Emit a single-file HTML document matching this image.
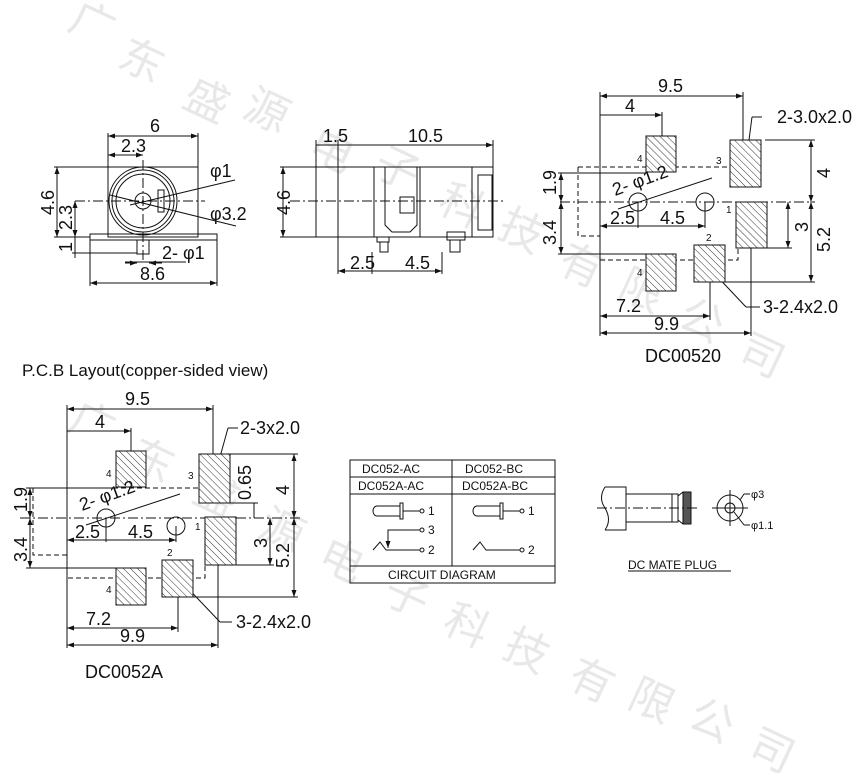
<!DOCTYPE html>
<html><head><meta charset="utf-8"><style>
html,body{margin:0;padding:0;background:#fff}
svg{display:block}
text{font-family:"Liberation Sans",Arial,sans-serif;fill:#111}
.wm text{font-family:"Noto Sans CJK SC","WenQuanYi Zen Hei",sans-serif;fill:#e8e8e8;font-size:44px;font-weight:normal}
</style></head><body>
<svg width="860" height="776" viewBox="0 0 860 776" xmlns="http://www.w3.org/2000/svg">
<defs>
<pattern id="h" width="5" height="5" patternUnits="userSpaceOnUse" patternTransform="rotate(-45)"><rect width="5" height="5" fill="#fff"/><line x1="0" y1="0" x2="0" y2="5" stroke="#333" stroke-width="1"/></pattern>
<marker id="a" markerWidth="7" markerHeight="5" refX="7" refY="2.5" orient="auto-start-reverse"><path d="M0,0 L7,2.5 L0,5z" fill="#111"/></marker>
</defs>
<!-- watermark -->
<g class="wm">
<text x="70" y="40" transform="rotate(25 95 25)">广</text>
<text x="120" y="75" transform="rotate(25 140 60)">东</text>
<text x="185" y="115" transform="rotate(25 205 100)">盛</text>
<text x="245" y="125" transform="rotate(25 265 110)">源</text>
<text x="310" y="165" transform="rotate(25 330 150)">电</text>
<text x="375" y="185" transform="rotate(25 400 170)">子</text>
<text x="440" y="220" transform="rotate(25 460 205)">科</text>
<text x="500" y="245" transform="rotate(25 520 230)">技</text>
<text x="560" y="280" transform="rotate(25 580 265)">有</text>
<text x="620" y="305" transform="rotate(25 640 290)">限</text>
<text x="680" y="335" transform="rotate(25 700 320)">公</text>
<text x="740" y="370" transform="rotate(25 760 355)">司</text>
<text x="70" y="440" transform="rotate(25 95 425)">广</text>
<text x="130" y="475" transform="rotate(25 150 460)">东</text>
<text x="195" y="510" transform="rotate(25 215 495)">盛</text>
<text x="260" y="545" transform="rotate(25 280 530)">源</text>
<text x="320" y="575" transform="rotate(25 340 560)">电</text>
<text x="385" y="610" transform="rotate(25 405 595)">子</text>
<text x="445" y="640" transform="rotate(25 465 625)">科</text>
<text x="505" y="665" transform="rotate(25 525 650)">技</text>
<text x="570" y="695" transform="rotate(25 590 680)">有</text>
<text x="630" y="715" transform="rotate(25 650 700)">限</text>
<text x="690" y="735" transform="rotate(25 710 720)">公</text>
<text x="750" y="765" transform="rotate(25 770 750)">司</text>
</g>

<g stroke="#111" stroke-width="1" fill="none">
<!-- FRONT VIEW -->
<rect x="108" y="167" width="90" height="70"/>
<rect x="90" y="234" width="127" height="6"/>
<rect x="137" y="240" width="12" height="14"/>
<circle cx="143" cy="201" r="34"/><circle cx="143" cy="201" r="31"/><circle cx="143" cy="201" r="27"/>
<circle cx="143" cy="201" r="8"/>
<rect x="158" y="190" width="6" height="22"/>
<line x1="75" y1="201" x2="205" y2="201" stroke-dasharray="10,3,2,3"/>
<line x1="143" y1="160" x2="143" y2="260" stroke-dasharray="10,3,2,3"/>
<line x1="108" y1="133" x2="108" y2="167"/><line x1="198" y1="133" x2="198" y2="167"/>
<line x1="108" y1="136" x2="198" y2="136" marker-start="url(#a)" marker-end="url(#a)"/>
<line x1="108" y1="155" x2="143" y2="155" marker-start="url(#a)" marker-end="url(#a)"/>
<line x1="54" y1="167" x2="108" y2="167"/><line x1="54" y1="237" x2="90" y2="237"/>
<line x1="57" y1="167" x2="57" y2="237" marker-start="url(#a)" marker-end="url(#a)"/>
<line x1="75" y1="201" x2="75" y2="237" marker-start="url(#a)" marker-end="url(#a)"/>
<line x1="75" y1="237" x2="75" y2="258"/><line x1="72" y1="253" x2="137" y2="253"/>
<line x1="90" y1="240" x2="90" y2="286"/><line x1="217" y1="240" x2="217" y2="286"/>
<line x1="90" y1="283" x2="217" y2="283" marker-start="url(#a)" marker-end="url(#a)"/>
<line x1="125" y1="262" x2="186" y2="262"/>
<line x1="125" y1="263" x2="137" y2="263" marker-end="url(#a)"/>
<line x1="162" y1="263" x2="149" y2="263" marker-end="url(#a)"/>
<line x1="130" y1="205" x2="235" y2="180"/>
<line x1="110" y1="195" x2="236" y2="226"/>

<!-- SIDE VIEW -->
<rect x="316" y="167" width="177" height="70"/>
<line x1="338" y1="167" x2="338" y2="237"/>
<line x1="374" y1="167" x2="374" y2="237"/><line x1="420" y1="167" x2="420" y2="237"/>
<path d="M385,167 V225 L392,232 H410 L417,225 V167"/>
<rect x="400" y="197" width="14" height="16"/>
<line x1="472" y1="167" x2="472" y2="237"/>
<rect x="478" y="175" width="14" height="55"/>
<rect x="377" y="237" width="12" height="5"/><rect x="380" y="242" width="8" height="10"/>
<rect x="447" y="232" width="18" height="8"/><rect x="450" y="240" width="10" height="12"/>
<line x1="290" y1="201" x2="505" y2="201" stroke-dasharray="10,3,2,3"/>
<line x1="280" y1="167" x2="316" y2="167"/><line x1="280" y1="237" x2="316" y2="237"/>
<line x1="283" y1="167" x2="283" y2="237" marker-start="url(#a)" marker-end="url(#a)"/>
<line x1="316" y1="140" x2="316" y2="167"/><line x1="493" y1="140" x2="493" y2="167"/><line x1="338" y1="140" x2="338" y2="274"/>
<line x1="316" y1="145" x2="493" y2="145" marker-end="url(#a)"/>
<line x1="372" y1="252" x2="372" y2="274"/><line x1="442" y1="252" x2="442" y2="274"/>
<line x1="338" y1="271" x2="442" y2="271" marker-start="url(#a)" marker-end="url(#a)"/>

<!-- PCB TOP DC00520 -->
<path d="M578,167 H730 M578,167 V236 H600 M600,236 V260 H738 V248" stroke-dasharray="5,3"/>
<line x1="560" y1="202" x2="815" y2="202" stroke-dasharray="10,3,2,3"/>
<circle cx="638" cy="202" r="9"/><circle cx="705" cy="202" r="9"/>
<line x1="600" y1="92" x2="600" y2="336"/><line x1="743" y1="92" x2="743" y2="140"/>
<line x1="600" y1="96" x2="743" y2="96" marker-start="url(#a)" marker-end="url(#a)"/>
<line x1="662" y1="112" x2="662" y2="136"/>
<line x1="600" y1="115" x2="662" y2="115" marker-end="url(#a)"/>
<line x1="600" y1="316" x2="710" y2="316" marker-start="url(#a)" marker-end="url(#a)"/>
<line x1="710" y1="282" x2="710" y2="320"/><line x1="751" y1="248" x2="751" y2="336"/>
<line x1="600" y1="333" x2="751" y2="333" marker-start="url(#a)" marker-end="url(#a)"/>
<line x1="765" y1="140" x2="815" y2="140"/><line x1="725" y1="282" x2="815" y2="282"/><line x1="767" y1="248" x2="792" y2="248"/>
<line x1="811" y1="140" x2="811" y2="202" marker-start="url(#a)" marker-end="url(#a)"/>
<line x1="811" y1="202" x2="811" y2="282" marker-start="url(#a)" marker-end="url(#a)"/>
<line x1="788" y1="202" x2="788" y2="248" marker-start="url(#a)" marker-end="url(#a)"/>
<line x1="558" y1="173" x2="646" y2="173"/><line x1="558" y1="254" x2="646" y2="254"/>
<line x1="561" y1="173" x2="561" y2="202" marker-start="url(#a)" marker-end="url(#a)"/>
<line x1="561" y1="202" x2="561" y2="254" marker-start="url(#a)" marker-end="url(#a)"/>
<line x1="600" y1="226" x2="705" y2="226" marker-start="url(#a)" marker-end="url(#a)"/>
<line x1="638" y1="202" x2="638" y2="228"/><line x1="705" y1="202" x2="705" y2="228"/>
<line x1="618" y1="209" x2="712" y2="178"/>
<line x1="762" y1="117" x2="752" y2="117"/><line x1="752" y1="117" x2="746" y2="163" marker-end="url(#a)"/>
<line x1="760" y1="307" x2="746" y2="307"/><line x1="746" y1="307" x2="712" y2="271" marker-end="url(#a)"/>

<!-- PCB BOTTOM DC0052A -->
<path d="M33,488 H199 M33,488 V555 H67 M67,555 V578 H205 V565" stroke-dasharray="5,3"/>
<line x1="20" y1="518" x2="300" y2="518" stroke-dasharray="10,3,2,3"/>
<circle cx="106" cy="518" r="9"/><circle cx="176" cy="526" r="9"/>
<line x1="67" y1="405" x2="67" y2="648"/><line x1="213" y1="405" x2="213" y2="454"/>
<line x1="67" y1="409" x2="213" y2="409" marker-start="url(#a)" marker-end="url(#a)"/>
<line x1="131" y1="428" x2="131" y2="451"/>
<line x1="67" y1="431" x2="131" y2="431" marker-end="url(#a)"/>
<line x1="67" y1="628" x2="178" y2="628" marker-start="url(#a)" marker-end="url(#a)"/>
<line x1="178" y1="597" x2="178" y2="632"/><line x1="218" y1="565" x2="218" y2="648"/>
<line x1="67" y1="645" x2="218" y2="645" marker-start="url(#a)" marker-end="url(#a)"/>
<line x1="230" y1="454" x2="298" y2="454"/><line x1="193" y1="597" x2="298" y2="597"/><line x1="236" y1="565" x2="274" y2="565"/>
<line x1="294" y1="454" x2="294" y2="518" marker-start="url(#a)" marker-end="url(#a)"/>
<line x1="294" y1="518" x2="294" y2="597" marker-start="url(#a)" marker-end="url(#a)"/>
<line x1="270" y1="518" x2="270" y2="565" marker-start="url(#a)" marker-end="url(#a)"/>
<line x1="254" y1="503" x2="254" y2="518"/><line x1="230" y1="503" x2="258" y2="503"/>
<line x1="26" y1="488" x2="116" y2="488"/><line x1="26" y1="568" x2="116" y2="568"/>
<line x1="30" y1="488" x2="30" y2="518" marker-start="url(#a)" marker-end="url(#a)"/>
<line x1="30" y1="518" x2="30" y2="568" marker-start="url(#a)" marker-end="url(#a)"/>
<line x1="67" y1="540" x2="176" y2="540" marker-start="url(#a)" marker-end="url(#a)"/>
<line x1="106" y1="518" x2="106" y2="542"/><line x1="176" y1="526" x2="176" y2="542"/>
<line x1="86" y1="525" x2="180" y2="494"/>
<line x1="238" y1="428" x2="228" y2="428"/><line x1="228" y1="428" x2="215" y2="475" marker-end="url(#a)"/>
<line x1="232" y1="622" x2="220" y2="622"/><line x1="220" y1="622" x2="180" y2="580" marker-end="url(#a)"/>

<!-- circuit table -->
<rect x="350" y="460" width="205" height="123"/>
<line x1="350" y1="477" x2="555" y2="477"/><line x1="350" y1="494" x2="555" y2="494"/><line x1="350" y1="566" x2="555" y2="566"/>
<line x1="452" y1="460" x2="452" y2="566"/>
<path d="M400,506 H377 A4,5 0 0 0 377,516 H400"/><rect x="400" y="503" width="3" height="16"/>
<line x1="403" y1="511" x2="420" y2="511"/><circle cx="422" cy="511" r="2"/>
<path d="M500,506 H477 A4,5 0 0 0 477,516 H500"/><rect x="500" y="503" width="3" height="16"/>
<line x1="503" y1="511" x2="520" y2="511"/><circle cx="522" cy="511" r="2"/>
<path d="M388,545 V530 H420"/><circle cx="422" cy="530" r="2"/>
<path d="M373,550 L380,542 L386,550 H420"/><circle cx="422" cy="550" r="2"/>
<line x1="388" y1="538" x2="388" y2="548" marker-end="url(#a)"/>
<path d="M473,550 L480,542 L486,550 H520"/><circle cx="522" cy="550" r="2"/>

<!-- mate plug -->
<path d="M605,487 H626 V530 H605"/><path d="M605,487 Q598,498 605,508 Q612,520 605,530"/>
<rect x="626" y="494" width="52" height="28"/>
<line x1="672" y1="494" x2="672" y2="522"/>
<path d="M678,496 L683,492 H690 V524 H683 L678,520"/>
<rect x="683" y="492" width="8" height="32" fill="#555"/>
<line x1="597" y1="508" x2="700" y2="508" stroke-dasharray="10,3,2,3"/>
<circle cx="730" cy="508" r="13"/><circle cx="730" cy="508" r="5"/>
<line x1="712" y1="508" x2="748" y2="508"/><line x1="730" y1="490" x2="730" y2="526"/>
<line x1="750" y1="494" x2="744" y2="494"/><line x1="744" y1="494" x2="740" y2="500"/>
<line x1="750" y1="525" x2="744" y2="525"/><line x1="744" y1="525" x2="734" y2="512"/>
<line x1="628" y1="571" x2="731" y2="571"/>
</g>
<!-- pads -->
<g stroke="#111" fill="url(#h)">
<rect x="646" y="136" width="30" height="36"/><rect x="730" y="140" width="31" height="47"/>
<rect x="736" y="202" width="31" height="46"/><rect x="694" y="245" width="31" height="37"/>
<rect x="646" y="254" width="30" height="37"/>
<rect x="116" y="451" width="30" height="36"/><rect x="199" y="454" width="31" height="49"/>
<rect x="205" y="517" width="31" height="48"/><rect x="162" y="560" width="31" height="37"/>
<rect x="116" y="568" width="30" height="37"/>
</g>
<!-- text -->
<g font-size="18">
<text x="150" y="132">6</text><text x="121" y="152">2.3</text>
<text x="54" y="215" transform="rotate(-90 54 215)">4.6</text>
<text x="72" y="230" transform="rotate(-90 72 230)">2.3</text>
<text x="72" y="252" transform="rotate(-90 72 252)">1</text>
<text x="210" y="177">φ1</text><text x="210" y="220">φ3.2</text>
<text x="162" y="259">2- φ1</text><text x="140" y="280">8.6</text>
<text x="323" y="142">1.5</text><text x="408" y="142">10.5</text>
<text x="290" y="215" transform="rotate(-90 290 215)">4.6</text>
<text x="350" y="269">2.5</text><text x="405" y="269">4.5</text>
<text x="658" y="92">9.5</text><text x="625" y="112">4</text>
<text x="777" y="123">2-3.0x2.0</text>
<text x="615" y="196" transform="rotate(-20 615 196)">2- φ1.2</text>
<text x="610" y="224">2.5</text><text x="660" y="224">4.5</text>
<text x="556" y="195" transform="rotate(-90 556 195)">1.9</text>
<text x="556" y="245" transform="rotate(-90 556 245)">3.4</text>
<text x="830" y="178" transform="rotate(-90 830 178)">4</text>
<text x="808" y="232" transform="rotate(-90 808 232)">3</text>
<text x="830" y="252" transform="rotate(-90 830 252)">5.2</text>
<text x="763" y="313">3-2.4x2.0</text>
<text x="616" y="312">7.2</text><text x="654" y="330">9.9</text>
<text x="645" y="362">DC00520</text>
<text x="22" y="376" font-size="17">P.C.B Layout(copper-sided view)</text>
<text x="125" y="405">9.5</text><text x="95" y="428">4</text>
<text x="240" y="434">2-3x2.0</text>
<text x="82" y="511" transform="rotate(-20 82 511)">2- φ1.2</text>
<text x="75" y="538">2.5</text><text x="128" y="538">4.5</text>
<text x="27" y="512" transform="rotate(-90 27 512)">1.9</text>
<text x="27" y="562" transform="rotate(-90 27 562)">3.4</text>
<text x="251" y="500" transform="rotate(-90 251 500)">0.65</text>
<text x="289" y="495" transform="rotate(-90 289 495)">4</text>
<text x="267" y="548" transform="rotate(-90 267 548)">3</text>
<text x="289" y="568" transform="rotate(-90 289 568)">5.2</text>
<text x="236" y="628">3-2.4x2.0</text>
<text x="86" y="625">7.2</text><text x="120" y="642">9.9</text>
<text x="85" y="678">DC0052A</text>
</g>
<g font-size="10">
<text x="637" y="162">4</text><text x="716" y="164">3</text><text x="726" y="213">1</text><text x="706" y="241">2</text><text x="637" y="276">4</text>
<text x="106" y="477">4</text><text x="188" y="479">3</text><text x="195" y="530">1</text><text x="167" y="556">2</text><text x="106" y="593">4</text>
</g>
<g font-size="12">
<text x="362" y="473">DC052-AC</text><text x="465" y="473">DC052-BC</text>
<text x="358" y="490">DC052A-AC</text><text x="462" y="490">DC052A-BC</text>
<text x="428" y="515">1</text><text x="528" y="515">1</text>
<text x="428" y="534">3</text><text x="428" y="554">2</text><text x="528" y="554">2</text>
<text x="388" y="579">CIRCUIT DIAGRAM</text>
<text x="628" y="569">DC MATE PLUG</text>
<text x="751" y="498" font-size="11">φ3</text><text x="751" y="529" font-size="11">φ1.1</text>
</g>
</svg>
</body></html>
